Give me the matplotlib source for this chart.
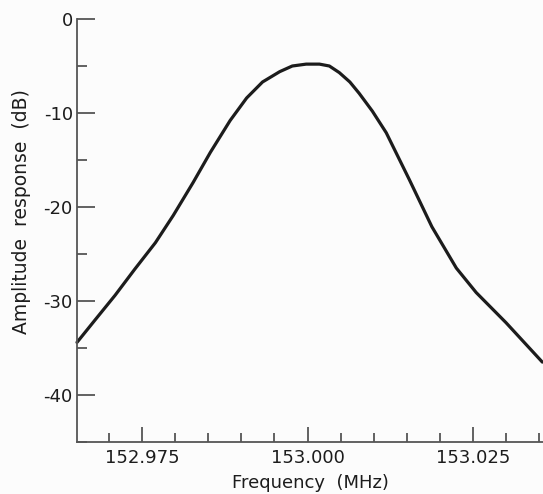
import matplotlib
matplotlib.use("Agg")
import matplotlib.pyplot as plt
from matplotlib.ticker import MultipleLocator, FormatStrFormatter

plt.rcParams['axes.unicode_minus'] = False
plt.rcParams['font.family'] = ['DejaVu Sans']

# Filter response curve: frequency (MHz) vs amplitude (dB)
freq_mhz = [152.96515, 152.9679, 152.9709, 152.9739, 152.9770, 152.9797,
            152.9827, 152.9853, 152.9883, 152.9908, 152.9932, 152.9958,
            152.9977, 152.9998, 153.0018, 153.0033, 153.0048, 153.0064,
            153.0078, 153.0098, 153.0119, 153.0154, 153.0188, 153.0225,
            153.0255, 153.0300, 153.0355]
amp_db = [-34.4, -32.0, -29.4, -26.6, -23.8, -20.9,
          -17.4, -14.2, -10.8, -8.4, -6.7, -5.6,
          -5.0, -4.8, -4.8, -5.0, -5.7, -6.7,
          -7.9, -9.8, -12.1, -17.1, -22.1, -26.5,
          -29.1, -32.3, -36.5]

x_major = [152.975, 153.000, 153.025]
y_major = [0, -10, -20, -30, -40]

ink = '#1c1c1c'
axis_ink = '#555555'

fig = plt.figure(figsize=(5.43, 4.94), dpi=100, facecolor='#fcfcfc')
ax = fig.add_axes([77/543, 1 - 442/494, 1 - 77/543, (442 - 19)/494])
ax.set_facecolor('#fcfcfc')

ax.plot(freq_mhz, amp_db, color=ink, lw=2.3, solid_joinstyle='round',
        solid_capstyle='round', clip_on=False)

ax.set_xlim(152.96515, 153.0356)
ax.set_ylim(-45, 0)

for s in ('top', 'right'):
    ax.spines[s].set_visible(False)
for s in ('left', 'bottom'):
    ax.spines[s].set_color(axis_ink)
    ax.spines[s].set_linewidth(1.3)

ax.set_xticks(x_major)
ax.xaxis.set_major_formatter(FormatStrFormatter('%.3f'))
ax.xaxis.set_minor_locator(MultipleLocator(0.005))
ax.set_yticks(y_major)
ax.yaxis.set_minor_locator(MultipleLocator(5))

ax.tick_params(axis='y', which='major', direction='in', length=13, width=1.3,
               color=axis_ink, labelsize=13, pad=3, labelcolor=ink)
ax.tick_params(axis='y', which='minor', direction='in', length=7.5, width=1.3,
               color=axis_ink)
ax.tick_params(axis='x', which='major', direction='in', length=11, width=1.3,
               color=axis_ink, labelsize=13, pad=5, labelcolor=ink)
ax.tick_params(axis='x', which='minor', direction='in', length=6.5, width=1.3,
               color=axis_ink)

ax.set_xlabel('Frequency  (MHz)', fontsize=13, color=ink)
ax.set_ylabel('Amplitude  response  (dB)', fontsize=13.5, color=ink)
ax.xaxis.set_label_coords((310 - 77) / (543 - 77), -(474 - 442) / (442 - 19))
ax.xaxis.label.set_va('top')
ax.yaxis.set_label_coords(-(77 - 12) / (543 - 77), (442 - 212) / (442 - 19))
ax.yaxis.label.set_va('top')

fig.savefig('out.png', dpi=100, facecolor=fig.get_facecolor())
